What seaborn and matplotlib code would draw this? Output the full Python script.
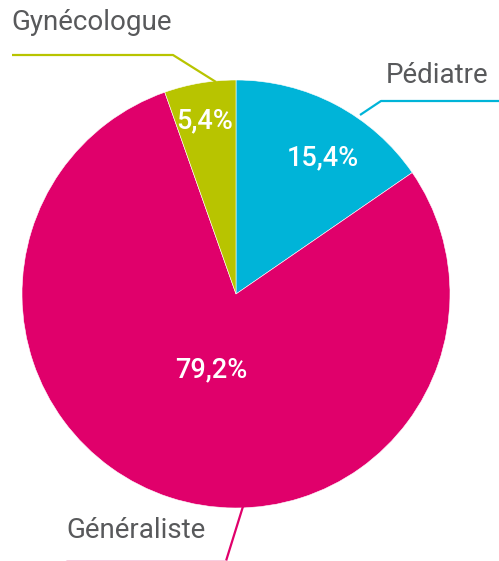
import matplotlib.pyplot as plt
import seaborn as sns

# Share of consultations by specialist
categories = ["Pédiatre", "Généraliste", "Gynécologue"]
shares = [15.4, 79.2, 5.4]
pct_labels = ["15,4%", "79,2%", "5,4%"]
colors = ["#00B4D8", "#E0006B", "#B8C400"]

W, H = 499, 561


def py(y):
    """Convert a pixel row (top origin) to data y (bottom origin)."""
    return H - y


sns.set_theme(style="white")
plt.rcParams["font.family"] = ["Roboto", "DejaVu Sans"]

fig = plt.figure(figsize=(W / 100, H / 100), dpi=100)
ax = fig.add_axes([0, 0, 1, 1])

ax.pie(
    shares,
    colors=colors,
    startangle=90,
    counterclock=False,
    center=(236, py(294)),
    radius=214,
    frame=True,
    wedgeprops=dict(edgecolor="white", linewidth=0.4),
)
ax.set_xlim(0, W)
ax.set_ylim(0, H)
ax.set_aspect("equal")
ax.axis("off")

# percentage labels inside the wedges
pct_pos = [(323, 158), (211, 370), (205, 121)]
for lbl, (x, y) in zip(pct_labels, pct_pos):
    ax.text(x, py(y), lbl, color="white", fontsize=19.5, fontweight="medium",
            ha="center", va="center")

# category labels with leader lines
text_color = "#58595B"
ax.text(11, py(22), "Gynécologue", color=text_color, fontsize=20, ha="left", va="center")
ax.plot([12, 173, 216], [py(55), py(55), py(82)], color=colors[2], lw=1.6,
        solid_capstyle="butt")

ax.text(386, py(75), "Pédiatre", color=text_color, fontsize=20, ha="left", va="center")
ax.plot([W, 381, 360], [py(101), py(101), py(115)], color=colors[0], lw=1.6,
        solid_capstyle="butt")

ax.text(66, py(531), "Généraliste", color=text_color, fontsize=20, ha="left", va="center")
ax.plot([245, 226], [py(500), py(561)], color=colors[1], lw=1.6, solid_capstyle="butt")
ax.plot([67, 226], [py(560.5), py(560.5)], color="#F6C6DA", lw=1.2)

fig.savefig("out.png", dpi=100)
